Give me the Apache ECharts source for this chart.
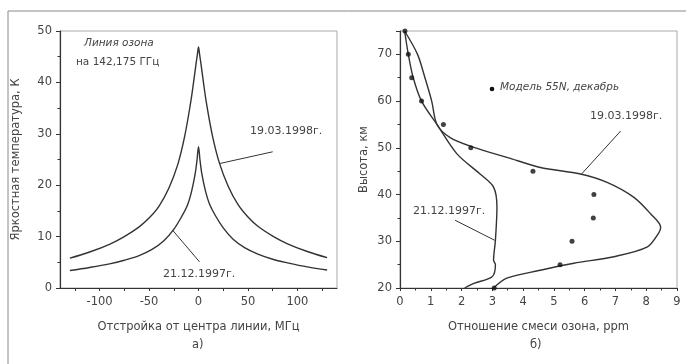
<!DOCTYPE html>
<html>
<head>
<meta charset="utf-8">
<script src="https://cdn.jsdelivr.net/npm/echarts/dist/echarts.min.js"></script>
<style>
  html, body { margin: 0; padding: 0; background: #fff; }
  #chart { width: 686px; height: 364px; }
</style>
</head>
<body>
<div id="chart"></div>
<script>
// а) brightness temperature of the ozone line, K vs detuning, MHz
const marchOffsets = [-130, -110, -90, -75, -60, -50, -40, -30, -21, -14, -8, -5, -2.5, -1, 0, 1, 2.5, 5, 8, 14, 21, 30, 40, 50, 60, 75, 90, 110, 130]
const marchTemp = [5.8, 7.0, 8.5, 10.0, 11.9, 13.6, 15.9, 19.4, 24.0, 29.5, 36.0, 40.0, 43.6, 45.6, 46.9, 45.6, 43.6, 40.0, 36.0, 29.7, 24.4, 19.8, 16.2, 13.8, 12.0, 10.1, 8.6, 7.1, 5.9]
const decOffsets = [-130, -110, -90, -75, -60, -47, -35, -25, -17, -11, -7, -3.3, -1.5, 0, 1.5, 3.3, 7, 11, 17, 25, 35, 47, 60, 75, 90, 110, 130]
const decTemp = [3.4, 4.0, 4.7, 5.4, 6.3, 7.5, 9.2, 11.4, 13.9, 16.2, 18.8, 22.3, 24.9, 27.5, 24.9, 22.3, 18.9, 16.4, 14.1, 11.7, 9.5, 7.8, 6.6, 5.6, 4.9, 4.1, 3.5]
const offsetLabels = [-100, -50, 0, 50, 100]
const offsetTicks = [-125, -100, -75, -50, -25, 0, 25, 50, 75, 100, 125]

// б) ozone mixing ratio, ppm vs height, km
const marchRatio = [0.15, 0.57, 0.81, 1.03, 1.2, 1.63, 2.4, 3.5, 4.56, 5.86, 6.73, 7.6, 8.14, 8.47, 8.4, 8.04, 6.95, 5.65, 4.56, 3.47, 3.04]
const marchHeight = [75, 70, 65, 60, 55, 52.2, 50.1, 47.9, 45.8, 44.4, 42.6, 39.4, 35.9, 33, 31.7, 28.8, 26.7, 25.3, 23.8, 22.1, 20]
const decRatio = [0.15, 0.27, 0.43, 0.7, 1.2, 1.85, 2.6, 3.04, 3.15, 3.1, 3.04, 3.1, 2.99, 2.4, 2.1]
const decHeight = [75, 70, 65, 60, 55, 48.7, 44.4, 41.6, 37.3, 30.2, 26, 25, 22.4, 21, 20]
const modelRatio = [0.16, 0.27, 0.38, 0.7, 1.41, 2.3, 4.32, 6.3, 6.28, 5.59, 5.2, 3.06]
const modelHeight = [75, 70, 65, 60, 55, 50, 45, 40, 35, 30, 25, 20]

// pointer lines [from, to] in data units
const leftMarchPtr = [[75, 26.5], [21, 24.2]]
const leftDecPtr = [[1, 5.1], [-26, 11.2]]
const rightMarchPtr = [[7.17, 53.6], [5.9, 44.4]]
const rightDecPtr = [[1.79, 34.5], [3.08, 30.2]]

const zip = (xs, ys) => xs.map((x, i) => [x, ys[i]])
const ink = '#333'
const txt = '#444'
const font = 'DejaVu Sans'

let myChart = echarts.init(document.getElementById('chart'))

const axisCommon = {
  axisLine: { show: true, onZero: false, lineStyle: { color: ink, width: 1.2 } },
  axisTick: { show: true, length: 4, lineStyle: { color: ink } },
  minorTick: { show: true, splitNumber: 2, length: 2.5, lineStyle: { color: ink } },
  splitLine: { show: false },
  axisLabel: { color: txt, fontSize: 11.5, fontFamily: font },
  nameTextStyle: { color: txt, fontSize: 11.5, fontFamily: font },
  nameLocation: 'middle'
}

function curve(x, y, data, smooth) {
  return {
    type: 'line', xAxisIndex: x, yAxisIndex: y, data: data,
    showSymbol: false, smooth: smooth,
    lineStyle: { color: ink, width: 1.4 }, silent: true, z: 3
  }
}
function pointer(x, y, data) {
  return {
    type: 'line', xAxisIndex: x, yAxisIndex: y, data: data,
    showSymbol: false, lineStyle: { color: ink, width: 1 }, silent: true, z: 4
  }
}

let option = {
  animation: false,
  grid: [
    { left: 60, top: 31, width: 277, height: 257, show: true, borderColor: '#aaa', borderWidth: 1 },
    { left: 400, top: 31, width: 277, height: 257, show: true, borderColor: '#aaa', borderWidth: 1 }
  ],
  xAxis: [
    Object.assign({}, axisCommon, {
      gridIndex: 0, type: 'value', min: -140, max: 140,
      name: 'Отстройка от центра линии, МГц', nameGap: 33,
      axisTick: { show: true, length: 3, customValues: offsetTicks, lineStyle: { color: ink } },
      minorTick: { show: false },
      axisLabel: { color: txt, fontSize: 11.5, fontFamily: font, customValues: offsetLabels, margin: 8 }
    }),
    Object.assign({}, axisCommon, {
      gridIndex: 1, type: 'value', min: 0, max: 9, interval: 1,
      name: 'Отношение смеси озона, ppm', nameGap: 33,
      axisTick: { show: true, length: 3, lineStyle: { color: ink } },
      axisLabel: { color: txt, fontSize: 11.5, fontFamily: font, margin: 8 }
    })
  ],
  yAxis: [
    Object.assign({}, axisCommon, {
      gridIndex: 0, type: 'value', min: 0, max: 50, interval: 10,
      name: 'Яркостная температура, К', nameGap: 38
    }),
    Object.assign({}, axisCommon, {
      gridIndex: 1, type: 'value', min: 20, max: 75, interval: 10,
      name: 'Высота, км', nameGap: 30,
      axisLabel: { color: txt, fontSize: 11.5, fontFamily: font, showMaxLabel: false }
    })
  ],
  series: [
    curve(0, 0, zip(marchOffsets, marchTemp), 0.35),
    curve(0, 0, zip(decOffsets, decTemp), 0.35),
    curve(1, 1, zip(marchRatio, marchHeight), 0.3),
    curve(1, 1, zip(decRatio, decHeight), 0.3),
    {
      type: 'scatter', xAxisIndex: 1, yAxisIndex: 1,
      data: zip(modelRatio, modelHeight),
      symbolSize: 5, itemStyle: { color: '#111' }, silent: true, z: 5
    },
    pointer(0, 0, leftMarchPtr),
    pointer(0, 0, leftDecPtr),
    pointer(1, 1, rightMarchPtr),
    pointer(1, 1, rightDecPtr)
  ],
  graphic: [
    { type: 'rect', shape: { x: 8, y: 11, width: 700, height: 400 }, style: { fill: 'none', stroke: '#888', lineWidth: 1 }, silent: true },
    { type: 'text', left: 84, top: 38, style: { text: 'Линия озона', fontSize: 10.5, fontStyle: 'italic', fontFamily: font, fill: txt } },
    { type: 'text', left: 76, top: 57, style: { text: 'на 142,175 ГГц', fontSize: 10.5, fontFamily: font, fill: txt } },
    { type: 'text', left: 250, top: 126, style: { text: '19.03.1998г.', fontSize: 11, fontFamily: font, fill: txt } },
    { type: 'text', left: 163, top: 269, style: { text: '21.12.1997г.', fontSize: 11, fontFamily: font, fill: txt } },
    { type: 'text', left: 192, top: 339, style: { text: 'а)', fontSize: 11.5, fontFamily: font, fill: txt } },
    { type: 'circle', shape: { cx: 492, cy: 89, r: 2.3 }, style: { fill: '#111' } },
    { type: 'text', left: 500, top: 82, style: { text: 'Модель 55N, декабрь', fontSize: 10.5, fontStyle: 'italic', fontFamily: font, fill: txt } },
    { type: 'text', left: 590, top: 111, style: { text: '19.03.1998г.', fontSize: 11, fontFamily: font, fill: txt } },
    { type: 'text', left: 413, top: 206, style: { text: '21.12.1997г.', fontSize: 11, fontFamily: font, fill: txt } },
    { type: 'text', left: 530, top: 339, style: { text: 'б)', fontSize: 11.5, fontFamily: font, fill: txt } }
  ]
}
myChart.setOption(option)
window.addEventListener('resize', function() {
  myChart.resize()
})
</script>
</body>
</html>
